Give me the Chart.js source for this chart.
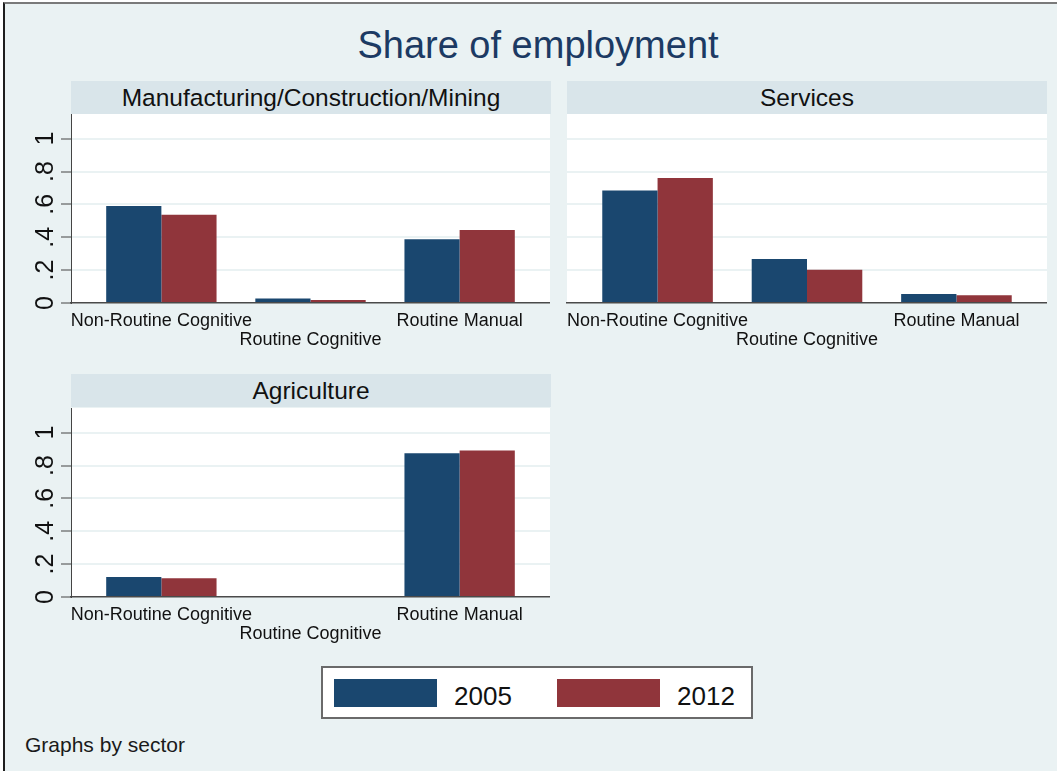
<!DOCTYPE html>
<html>
<head>
<meta charset="utf-8">
<script src="https://cdn.jsdelivr.net/npm/chart.js@4/dist/chart.umd.min.js"></script>
<style>
  html, body { margin: 0; padding: 0; background: #ffffff; }
  body { width: 1057px; height: 771px; overflow: hidden; position: relative; font-family: "Liberation Sans", Arial, sans-serif; }
  #frame { position: absolute; left: 3px; top: 2px; width: 1060px; height: 780px; background: #eaf2f3;
           border-left: 2px solid #1e1e1e; border-top: 2px solid #7a7a7a; }
  .abs { position: absolute; }
  #title { left: 538px; top: 45px; transform: translate(-50%, -50%); font-size: 38px; color: #1c3a63; white-space: nowrap; }
  .strip { background: #d9e5ea; color: #111; font-size: 24.5px; text-align: center; height: 33px; line-height: 33px; width: 480px; white-space: nowrap; }
  #legend { left: 321px; top: 666px; width: 428px; height: 49px; background: #fff; border: 2px solid #6a6a6a; }
  .sw { position: absolute; top: 11px; width: 103px; height: 28px; }
  .lt { position: absolute; top: 13px; font-size: 26px; line-height: 30px; color: #111; }
  #note { left: 25px; top: 733px; font-size: 21px; color: #1a1a1a; white-space: nowrap; }
</style>
</head>
<body>
<div id="frame"></div>
<div id="title" class="abs">Share of employment</div>
<div id="strip0" class="abs strip" style="left:71px; top:81px;"></div>
<div id="strip1" class="abs strip" style="left:567px; top:81px;"></div>
<div id="strip2" class="abs strip" style="left:71px; top:374px;"></div>
<canvas id="c0" class="abs" width="530" height="245" style="left:20px; top:114px;"></canvas>
<canvas id="c1" class="abs" width="490" height="245" style="left:557px; top:114px;"></canvas>
<canvas id="c2" class="abs" width="530" height="245" style="left:20px; top:408px;"></canvas>
<div id="legend" class="abs">
  <div class="sw" id="sw0" style="left:11px;"></div>
  <div class="lt" id="lt0" style="left:131px;"></div>
  <div class="sw" id="sw1" style="left:234px;"></div>
  <div class="lt" id="lt1" style="left:354px;"></div>
</div>
<div id="note" class="abs">Graphs by sector</div>
<script>
// ---- data ----
const categories = ['Non-Routine Cognitive', 'Routine Cognitive', 'Routine Manual'];
const categoryRows = [0, 1, 0];
const sectors = ['Manufacturing/Construction/Mining', 'Services', 'Agriculture'];
const years = ['2005', '2012'];
const mfg2005 = [0.590, 0.028, 0.388];
const mfg2012 = [0.537, 0.018, 0.444];
const srv2005 = [0.685, 0.267, 0.055];
const srv2012 = [0.760, 0.202, 0.047];
const agr2005 = [0.122, 0.000, 0.874];
const agr2012 = [0.114, 0.000, 0.892];
const yTickValues = [0, 0.2, 0.4, 0.6, 0.8, 1];
const yTickLabels = ['0', '.2', '.4', '.6', '.8', '1'];

// ---- styles ----
const colors = ['#1a476f', '#90353b'];
const FONT = 'Liberation Sans, Arial, sans-serif';

document.getElementById('sw0').style.background = colors[0];
document.getElementById('sw1').style.background = colors[1];
document.getElementById('lt0').textContent = years[0];
document.getElementById('lt1').textContent = years[1];
sectors.forEach((s, i) => { document.getElementById('strip' + i).textContent = s; });

const plotBg = {
  id: 'plotBg',
  beforeDraw(chart) {
    const a = chart.chartArea, ctx = chart.ctx;
    ctx.save();
    ctx.fillStyle = '#ffffff';
    ctx.fillRect(a.left, a.top, a.right - a.left, a.bottom - a.top);
    ctx.restore();
  }
};

function makePanel(id, s05, s12, showY, yWidth) {
  const toPts = arr => arr.map((v, i) => ({ x: i + 1, y: v }));
  new Chart(document.getElementById(id), {
    type: 'bar',
    data: {
      datasets: [
        { label: years[0], data: toPts(s05), backgroundColor: colors[0], borderWidth: 0 },
        { label: years[1], data: toPts(s12), backgroundColor: colors[1], borderWidth: 0 }
      ]
    },
    options: {
      responsive: false,
      animation: false,
      devicePixelRatio: 1,
      categoryPercentage: 0.74,
      barPercentage: 1.0,
      layout: { padding: 0 },
      plugins: { legend: { display: false }, tooltip: { enabled: false }, title: { display: false } },
      scales: {
        x: {
          type: 'linear',
          min: 0.394, max: 3.606,
          offset: false,
          grid: { display: false, offset: false, drawTicks: false },
          border: { display: true, color: '#4a4a4a', width: 1.5 },
          afterBuildTicks: sc => { sc.ticks = categories.map((c, i) => ({ value: i + 1 })); },
          afterFit: sc => { sc.height = 56; sc.paddingLeft = 0; sc.paddingRight = 0; },
          ticks: {
            autoSkip: false, maxRotation: 0, minRotation: 0, padding: 8,
            color: '#111',
            font: { family: FONT, size: 18, lineHeight: 1.08 },
            callback: v => {
              const i = Math.round(v) - 1;
              return categoryRows[i] ? ['', categories[i]] : categories[i];
            }
          }
        },
        y: {
          min: 0, max: 1.15,
          afterBuildTicks: sc => { sc.ticks = yTickValues.map(v => ({ value: v })); },
          afterFit: sc => { sc.width = yWidth; sc.paddingTop = 0; sc.paddingBottom = 0; },
          grid: {
            color: '#eaf2f3', lineWidth: 2,
            drawTicks: showY, tickLength: 10, tickColor: '#444', tickWidth: 1
          },
          border: { display: showY, color: '#444', width: 1 },
          ticks: {
            display: showY,
            minRotation: 90, maxRotation: 90,
            crossAlign: 'center',
            padding: 4,
            color: '#111',
            font: { family: FONT, size: 25 },
            callback: v => { const k = yTickValues.indexOf(v); return k >= 0 ? yTickLabels[k] : ''; }
          }
        }
      }
    },
    plugins: [plotBg]
  });
}

makePanel('c0', mfg2005, mfg2012, true, 51);
makePanel('c1', srv2005, srv2012, false, 10);
makePanel('c2', agr2005, agr2012, true, 51);
</script>
</body>
</html>
